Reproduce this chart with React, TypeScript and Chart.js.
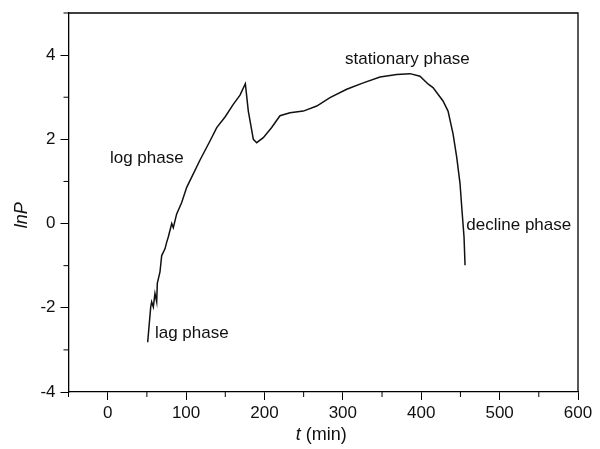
import React, { useEffect, useRef } from "react";
import { Chart, registerables } from "chart.js";

Chart.register(...registerables);

// time (min)
const T_MIN = [
  51.0, 54.9, 56.1, 58.2, 60.3, 62.5, 63.3, 66.7, 68.9, 73.1, 75.3, 77.3, 81.7, 83.7, 88.0,
  94.4, 100.8, 109.2, 117.8, 130.5, 139.1, 149.7, 160.2, 168.8, 175.6, 179.4, 185.8, 190.1,
  198.5, 209.2, 219.8, 232.6, 249.6, 266.7, 283.6, 304.9, 326.1, 347.4, 368.7, 385.7, 398.4,
  409.0, 415.0, 427.8, 434.2, 440.6, 445.3, 449.5, 452.0, 454.6, 455.9,
];
// lnP
const LN_P = [
  -2.82, -1.98, -1.86, -1.98, -1.66, -1.86, -1.42, -1.15, -0.76, -0.6, -0.44, -0.32, 0.0, -0.1, 0.23,
  0.5, 0.86, 1.18, 1.51, 1.96, 2.28, 2.53, 2.83, 3.05, 3.32, 2.67, 2.0, 1.92,
  2.04, 2.28, 2.56, 2.63, 2.67, 2.79, 2.99, 3.19, 3.34, 3.48, 3.54, 3.56, 3.5,
  3.31, 3.23, 2.91, 2.67, 2.13, 1.57, 0.95, 0.31, -0.32, -0.99,
];

const X_TICKS = [0, 100, 200, 300, 400, 500, 600];
const X_MINOR = [-50, 50, 150, 250, 350, 450, 550];
const Y_TICKS = [-4, -2, 0, 2, 4];
const Y_MINOR = [-3, -1, 1, 3, 5];

const PHASE_LABELS = ["log phase", "lag phase", "stationary phase", "decline phase"];
const PHASE_T = [2.9, 60.3, 462, 457.5];
const PHASE_LNP = [1.54, -2.6, 3.9, -0.05];
const PHASE_ALIGN: CanvasTextAlign[] = ["left", "left", "right", "left"];

const FONT = '"Liberation Sans", Arial, sans-serif';

const decorPlugin = {
  id: "decor",
  afterDraw(chart: any) {
    const { ctx, chartArea } = chart;
    const xs = chart.scales.x;
    const ys = chart.scales.y;
    ctx.save();
    ctx.strokeStyle = "#000";
    ctx.lineWidth = 1.3;
    // top & right frame
    ctx.beginPath();
    ctx.moveTo(chartArea.left, chartArea.top);
    ctx.lineTo(chartArea.right, chartArea.top);
    ctx.lineTo(chartArea.right, chartArea.bottom);
    ctx.stroke();
    // minor ticks
    ctx.lineWidth = 1;
    ctx.beginPath();
    X_MINOR.forEach((v) => {
      const px = xs.getPixelForValue(v);
      ctx.moveTo(px, chartArea.bottom);
      ctx.lineTo(px, chartArea.bottom + 5);
    });
    Y_MINOR.forEach((v) => {
      const py = ys.getPixelForValue(v);
      ctx.moveTo(chartArea.left, py);
      ctx.lineTo(chartArea.left - 5, py);
    });
    ctx.stroke();

    // phase labels
    ctx.fillStyle = "#111";
    ctx.font = `17px ${FONT}`;
    ctx.textBaseline = "middle";
    PHASE_LABELS.forEach((txt, i) => {
      ctx.textAlign = PHASE_ALIGN[i];
      ctx.fillText(txt, xs.getPixelForValue(PHASE_T[i]), ys.getPixelForValue(PHASE_LNP[i]));
    });

    // y title: lnP (italic, rotated)
    ctx.save();
    ctx.translate(22, ys.getPixelForValue(0.2));
    ctx.rotate(-Math.PI / 2);
    ctx.textAlign = "center";
    ctx.font = `italic 18px ${FONT}`;
    ctx.fillText("lnP", 0, 0);
    ctx.restore();

    // x title: t (min)
    ctx.textAlign = "left";
    ctx.font = `italic 18px ${FONT}`;
    const a = "t";
    const wa = ctx.measureText(a).width;
    ctx.font = `18px ${FONT}`;
    const b = " (min)";
    const wb = ctx.measureText(b).width;
    const cx = (chartArea.left + chartArea.right) / 2 - 2;
    const startX = cx - (wa + wb) / 2;
    const ty = 435;
    ctx.font = `italic 18px ${FONT}`;
    ctx.fillText(a, startX, ty);
    ctx.font = `18px ${FONT}`;
    ctx.fillText(b, startX + wa, ty);
    ctx.restore();
  },
};

export default function App() {
  const ref = useRef<HTMLCanvasElement | null>(null);

  useEffect(() => {
    if (!ref.current) return;
    const points = T_MIN.map((t, i) => ({ x: t, y: LN_P[i] }));
    const chart = new Chart(ref.current, {
      type: "line",
      data: {
        datasets: [
          {
            data: points,
            borderColor: "#111",
            borderWidth: 1.5,
            pointRadius: 0,
            tension: 0,
            fill: false,
          },
        ],
      },
      options: {
        animation: false,
        responsive: false,
        maintainAspectRatio: false,
        layout: { padding: { top: 13, right: 22, left: 0, bottom: 0 } },
        plugins: { legend: { display: false }, tooltip: { enabled: false } },
        scales: {
          x: {
            type: "linear",
            min: -50,
            max: 600,
            afterBuildTicks: (s: any) => {
              s.ticks = X_TICKS.map((v) => ({ value: v }));
            },
            afterFit: (s: any) => {
              s.height = 57;
              s.paddingLeft = 0;
              s.paddingRight = 0;
            },
            grid: {
              drawOnChartArea: false,
              drawTicks: true,
              tickLength: 8,
              color: "#000",
              lineWidth: 1,
            },
            border: { display: true, color: "#000", width: 1.3 },
            ticks: {
              color: "#111",
              font: { family: FONT, size: 17 },
              padding: 3,
              maxRotation: 0,
              autoSkip: false,
            },
          },
          y: {
            type: "linear",
            min: -4,
            max: 5,
            afterBuildTicks: (s: any) => {
              s.ticks = Y_TICKS.map((v) => ({ value: v }));
            },
            afterFit: (s: any) => {
              s.width = 68.5;
              s.paddingTop = 0;
              s.paddingBottom = 0;
            },
            grid: {
              drawOnChartArea: false,
              drawTicks: true,
              tickLength: 8,
              color: "#000",
              lineWidth: 1,
            },
            border: { display: true, color: "#000", width: 1.3 },
            ticks: {
              color: "#111",
              font: { family: FONT, size: 17 },
              padding: 5,
              autoSkip: false,
            },
          },
        },
      },
      plugins: [decorPlugin],
    });
    return () => chart.destroy();
  }, []);

  return (
    <div style={{ position: "fixed", left: 0, top: 0, width: 600, height: 449, background: "#fff" }}>
      <canvas ref={ref} width={600} height={449} style={{ width: 600, height: 449 }} />
    </div>
  );
}
